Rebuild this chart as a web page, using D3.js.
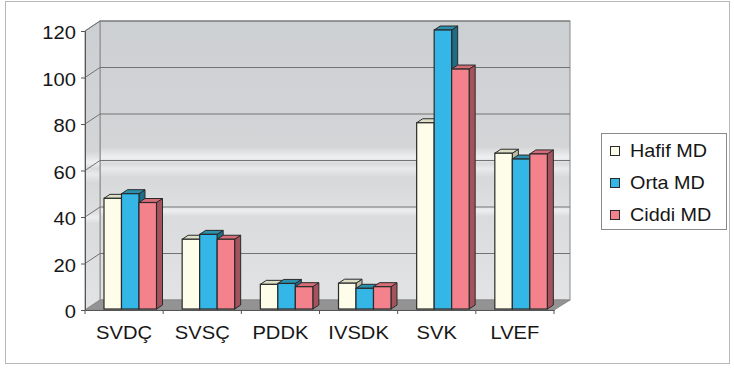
<!DOCTYPE html>
<html>
<head>
<meta charset="utf-8">
<script src="https://cdn.jsdelivr.net/npm/d3@7/dist/d3.min.js"></script>
<style>
  html, body { margin: 0; padding: 0; background: #fff; }
  svg { display: block; }
  text { font-family: "Liberation Sans", Arial, sans-serif; fill: #161616; }
</style>
</head>
<body>
<svg id="chart" width="734" height="369"></svg>
<script>
// Echocardiographic measurements by severity group
const categories = ["SVDÇ", "SVSÇ", "PDDK", "IVSDK", "SVK", "LVEF"];
const seriesNames = ["Hafif MD", "Orta MD", "Ciddi MD"];
const hafif = [47.6, 30.0, 10.6, 11.1, 80.1, 67.0];
const orta  = [49.6, 32.1, 11.0, 8.9, 120.0, 64.5];
const ciddi = [45.8, 30.0, 9.6, 9.6, 103.2, 66.7];
const yTicks = [0, 20, 40, 60, 80, 100, 120];

const seriesValues = [hafif, orta, ciddi];
const faceColors = ["#fdfde9", "#34b6e6", "#f3828d"];
const topColors  = ["#dedec6", "#2b8fae", "#d66c78"];
const sideColors = ["#bdbda6", "#1f6c85", "#a4525c"];

const svg = d3.select("#chart");

// outer frame
svg.append("rect").attr("x", 5.5).attr("y", 1.5).attr("width", 724).attr("height", 362)
  .attr("fill", "#fff").attr("stroke", "#b8b8b8");

// 3D layout: front plane and back wall offset
const depthX = 15, depthY = -10;
const x0 = d3.scaleBand().domain(categories).range([85, 554]);
const y = d3.scaleLinear().domain([0, 120]).range([310, 31]);
const x1 = d3.scaleBand().domain(seriesNames).range([18, 70.5]);

const left = 85, right = 554;
const yTop = y(120), yBase = y(0);

const defs = svg.append("defs");
const g = defs.append("linearGradient").attr("id", "wall").attr("x1", 0).attr("y1", 0).attr("x2", 0).attr("y2", 1);
[[0, "#cdd0d2"], [0.45, "#d3d5d7"], [0.49, "#eef0f1"], [0.51, "#d8dadc"], [0.53, "#e8eaeb"],
 [0.56, "#d6d8da"], [0.66, "#dcdedf"], [0.68, "#eceeef"], [0.70, "#d9dbdd"], [1, "#e1e3e4"]]
  .forEach(([o, c]) => g.append("stop").attr("offset", o).attr("stop-color", c));

const line = d3.line();

// back wall
svg.append("rect")
  .attr("x", left + depthX).attr("y", yTop + depthY)
  .attr("width", right - left + 1).attr("height", yBase - yTop)
  .attr("fill", "url(#wall)").attr("stroke", "#8a8a8a").attr("stroke-width", 1);

// side wall
svg.append("path")
  .attr("d", line([[left, yTop], [left + depthX, yTop + depthY], [left + depthX, yBase + depthY], [left, yBase]]) + "Z")
  .attr("fill", "url(#wall)").attr("stroke", "#8a8a8a");

// floor
svg.append("path")
  .attr("d", line([[left, yBase], [left + depthX, yBase + depthY], [right + depthX + 1, yBase + depthY], [right, yBase]]) + "Z")
  .attr("fill", "#939393").attr("stroke", "#8a8a8a");

// gridlines on the back wall and side wall
yTicks.forEach(t => {
  if (t === 0) return;
  svg.append("path")
    .attr("d", line([[left, y(t)], [left + depthX, y(t) + depthY], [right + depthX + 1, y(t) + depthY]]))
    .attr("fill", "none").attr("stroke", "#727272").attr("stroke-width", 1);
});

// bars
const bd = 6, bh = 4; // bar depth
const barBase = () => y(0) - 1;
categories.forEach((c, ci) => {
  seriesNames.forEach((s, si) => {
    const v = seriesValues[si][ci];
    const bx = x0(c) + x1(s) + 1;
    const w = x1.bandwidth();
    const yt = y(v) - 1, yb = barBase();
    const grp = svg.append("g");
    grp.append("path")
      .attr("d", line([[bx + w, yt], [bx + w + bd, yt - bh], [bx + w + bd, yb - bh], [bx + w, yb]]) + "Z")
      .attr("fill", sideColors[si]).attr("stroke", "#2a2a2a").attr("stroke-width", 1).attr("stroke-linejoin", "round");
    grp.append("path")
      .attr("d", line([[bx, yt], [bx + bd, yt - bh], [bx + w + bd, yt - bh], [bx + w, yt]]) + "Z")
      .attr("fill", topColors[si]).attr("stroke", "#2a2a2a").attr("stroke-width", 1).attr("stroke-linejoin", "round");
    grp.append("rect")
      .attr("x", bx).attr("y", yt).attr("width", w).attr("height", yb - yt)
      .attr("fill", faceColors[si]).attr("stroke", "#2a2a2a").attr("stroke-width", 1.2);
  });
});

// axes
const yAxis = d3.axisLeft(y).tickValues(yTicks).tickSize(4).tickFormat(d3.format("d"));
const ya = svg.append("g").attr("transform", `translate(${left},0)`).call(yAxis);
ya.select(".domain").attr("stroke", "#555");
ya.selectAll(".tick line").attr("stroke", "#555");
ya.selectAll(".tick text")
  .attr("font-size", 18)
  .attr("x", 0).attr("dy", "0.42em")
  .attr("text-anchor", "end")
  .attr("transform", "translate(-9,0) scale(1.12,1)");

const xAxis = d3.axisBottom(x0).tickSize(0).tickPadding(0);
const xa = svg.append("g").attr("transform", `translate(0,${yBase})`).call(xAxis);
xa.select(".domain").attr("stroke", "#555");
xa.selectAll(".tick text").remove();
// category boundary ticks
const bounds = categories.map(c => x0(c)).concat([right]);
xa.selectAll(".bound").data(bounds).enter().append("line")
  .attr("x1", d => d).attr("x2", d => d).attr("y1", 0).attr("y2", 4).attr("stroke", "#555");
// category labels
svg.append("g").selectAll("text").data(categories).enter().append("text")
  .attr("transform", d => `translate(${x0(d) + x0.bandwidth() / 2},339) scale(1.12,1)`)
  .attr("text-anchor", "middle").attr("font-size", 18)
  .text(d => d);

// legend
const lg = svg.append("g");
lg.append("rect").attr("x", 601.5).attr("y", 133.5).attr("width", 125).attr("height", 96)
  .attr("fill", "#fff").attr("stroke", "#8a8a8a");
const legendFill = ["#fdfde9", "#34b6e6", "#f3828d"];
seriesNames.forEach((s, i) => {
  const base = 157 + i * 32;
  lg.append("rect").attr("x", 610.5).attr("y", base - 10.5).attr("width", 9).attr("height", 9)
    .attr("fill", legendFill[i]).attr("stroke", "#2a2a2a");
  lg.append("text").attr("transform", `translate(630,${base}) scale(1.1,1)`)
    .attr("font-size", 18).text(s);
});
</script>
</body>
</html>
